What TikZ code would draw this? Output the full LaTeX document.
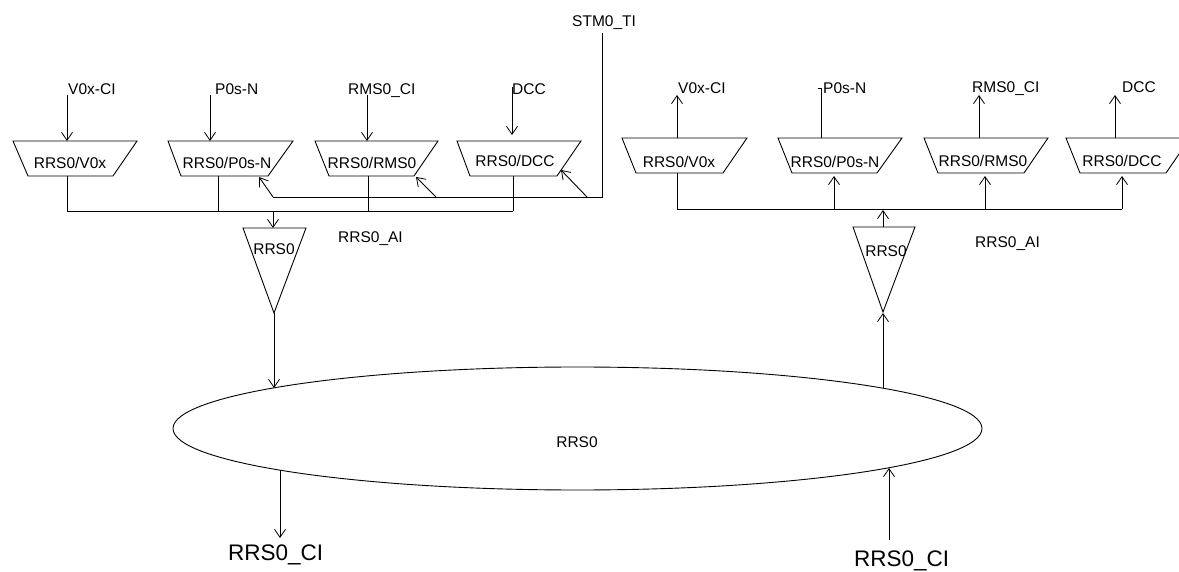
\documentclass[tikz,border=0pt]{standalone}
\usepackage{fontspec}
\setmainfont{Liberation Sans}
\usetikzlibrary{arrows.meta,shapes.geometric}
\begin{document}
\begin{tikzpicture}[x=1pt,y=-1pt,
  ln/.style={line width=0.9pt, draw=black},
  arr/.style={ln, -{Straight Barb[length=8pt,width=11pt,line width=0.8pt]}},
  shp/.style={draw=black, line width=0.9pt},
  lbl/.style={inner sep=0pt, anchor=base west, font=\fontsize{15.5}{18}\selectfont},
  boxtxt/.style={inner sep=0pt, anchor=base, font=\fontsize{15.5}{18}\selectfont},
  big/.style={inner sep=0pt, anchor=base west, font=\fontsize{22.5}{26}\selectfont}]
\clip (0,0) rectangle (1179,572);
\fill[white] (0,0) rectangle (1179,572);

% ---------- left group: trapezoids ----------
\draw[shp] (13,141) -- (137,141) -- (113,176) -- (28,176) -- cycle;
\draw[shp] (168,141) -- (293,141) -- (268,176) -- (181,176) -- cycle;
\draw[shp] (315,141) -- (438,141) -- (414,176) -- (329,176) -- cycle;
\draw[shp] (457,141) -- (581,141) -- (557,176) -- (470,176) -- cycle;
\node[boxtxt] (tL1) at (70,169) {RRS0/V0x};
\node[boxtxt] (tL2) at (227,168.5) {RRS0/P0s-N};
\node[boxtxt] (tL3) at (372,169) {RRS0/RMS0};
\node[boxtxt] (tL4) at (515,167) {RRS0/DCC};

% labels
\node[lbl] (lV) at (68,95) {V0x-CI};
\node[lbl] (lP) at (215,95) {P0s-N};
\node[lbl] (lR) at (348,95) {RMS0\_CI};
\node[lbl] (lD) at (512,95) {DCC};
\node[lbl] (lS) at (572,27) {STM0\_TI};
\node[lbl] (lAIl) at (338,243) {RRS0\_AI};

% coordinates
\coordinate (iV) at (67,95);   \coordinate (iVt) at (67,141);
\coordinate (iP) at (210,95);  \coordinate (iPt) at (210,141);
\coordinate (iR) at (367,95);  \coordinate (iRt) at (367,141);
\coordinate (iD) at (512,87);  \coordinate (iDt) at (512,135);
\coordinate (o1) at (67,176);  \coordinate (b1) at (67,211);
\coordinate (o2) at (218,176); \coordinate (b2) at (218,211);
\coordinate (o3) at (368,176); \coordinate (b3) at (368,211);
\coordinate (o4) at (513,176); \coordinate (b4) at (513,211);
\coordinate (bT) at (273,211); \coordinate (triT) at (273,228);
\coordinate (s0) at (602,33);  \coordinate (s1) at (602,197); \coordinate (s2) at (273,197);
\coordinate (f3) at (436,197); \coordinate (f4) at (587,197);
\coordinate (t2) at (259,177); \coordinate (t3) at (416,177); \coordinate (t4) at (561,170);

\draw[arr] (iV) -- (iVt);
\draw[arr] (iP) -- (iPt);
\draw[arr] (iR) -- (iRt);
\draw[arr] (iD) -- (iDt);
\draw[ln] (o1) -- (b1);
\draw[ln] (o2) -- (b2);
\draw[ln] (o3) -- (b3);
\draw[ln] (o4) -- (b4);
\draw[ln] (b1) -- (b4);
\draw[arr] (bT) -- (triT);
\draw[ln] (s0) -- (s1) -- (s2);
\draw[arr] (s2) -- (t2);
\draw[arr] (f3) -- (t3);
\draw[arr] (f4) -- (t4);

% left triangle
\draw[shp] (243,228) -- (306,228) -- (274,313) -- cycle;
\node[boxtxt] (triLt) at (274,255) {RRS0};
\coordinate (apL) at (274,313); \coordinate (eL) at (274,388);
\draw[arr] (apL) -- (eL);

% ---------- right group ----------
\draw[shp] (622,138) -- (747,138) -- (723,173) -- (636,173) -- cycle;
\draw[shp] (778,138) -- (902,138) -- (877,173) -- (792,173) -- cycle;
\draw[shp] (924,138) -- (1048,138) -- (1024,173) -- (938,173) -- cycle;
\draw[shp] (1066,138) -- (1190,138) -- (1166,173) -- (1080,173) -- cycle;
\node[boxtxt] (tR1) at (679,168) {RRS0/V0x};
\node[boxtxt] (tR2) at (835,167.5) {RRS0/P0s-N};
\node[boxtxt] (tR3) at (983,167) {RRS0/RMS0};
\node[boxtxt] (tR4) at (1122,167) {RRS0/DCC};

\node[lbl] (rV) at (678,94) {V0x-CI};
\node[lbl] (rP) at (823,93.5) {P0s-N};
\node[lbl] (rR) at (972,93) {RMS0\_CI};
\node[lbl] (rD) at (1122,93) {DCC};
\node[lbl] (lAIr) at (975,248) {RRS0\_AI};

\coordinate (u1) at (677,138);  \coordinate (u1t) at (677,95);
\coordinate (u2) at (821,138);  \coordinate (u2t) at (821,88); \coordinate (u2k) at (818,88);
\coordinate (u3) at (979,138);  \coordinate (u3t) at (979,95);
\coordinate (u4) at (1115,138); \coordinate (u4t) at (1115,95);
\coordinate (q1) at (677,173);  \coordinate (c1) at (677,209);
\coordinate (c2) at (834,209);  \coordinate (q2) at (834,176);
\coordinate (c3) at (985,209);  \coordinate (q3) at (985,176);
\coordinate (c4) at (1122,209); \coordinate (q4) at (1122,176);
\coordinate (triRt) at (883,227); \coordinate (cT) at (883,210);

\draw[arr] (u1) -- (u1t);
\draw[ln] (u2) -- (u2t) -- (u2k);
\draw[arr] (u3) -- (u3t);
\draw[arr] (u4) -- (u4t);
\draw[ln] (q1) -- (c1) -- (c4);
\draw[arr] (c2) -- (q2);
\draw[arr] (c3) -- (q3);
\draw[arr] (c4) -- (q4);
\draw[arr] (triRt) -- (cT);

\draw[shp] (853,227) -- (915,227) -- (883,312) -- cycle;
\node[boxtxt] (triRtx) at (886,257) {RRS0};
\coordinate (apR) at (883,313); \coordinate (eR) at (883,388);
\draw[arr] (eR) -- (apR);

% ---------- ellipse ----------
\node[draw=black, line width=0.9pt, ellipse, minimum width=809pt, minimum height=123pt, inner sep=0pt] (E) at (577.5,428.5) {};
\node[inner sep=0pt, anchor=base, font=\fontsize{15.5}{18}\selectfont] (Et) at (577,447) {RRS0};

\coordinate (eBL) at (280,470); \coordinate (oBL) at (280,538);
\coordinate (oBR) at (889,540); \coordinate (eBR) at (889,468);
\draw[arr] (eBL) -- (oBL);
\draw[arr] (oBR) -- (eBR);
\node[big] (bl) at (228,560) {RRS0\_CI};
\node[big] (br) at (854,566.5) {RRS0\_CI};
\end{tikzpicture}
\end{document}
